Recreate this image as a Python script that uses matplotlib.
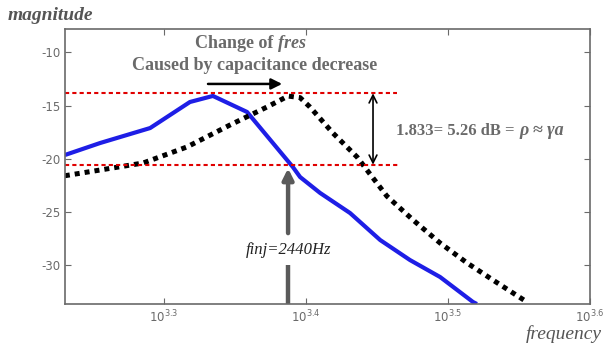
import numpy as np
import matplotlib
matplotlib.use("Agg")
import matplotlib.pyplot as plt

plt.rcParams['axes.unicode_minus'] = False

# blue curve (before capacitance decrease)
blue_f = [1699, 1799, 1951, 2081, 2160, 2283, 2459, 2488, 2570, 2698, 2833, 2973, 3122, 3293, 3314]
blue_db = [-19.65, -18.52, -17.11, -14.66, -14.09, -15.60, -20.78, -21.72, -23.22, -25.11, -27.65, -29.53, -31.13, -33.48, -33.67]

# black dotted curve (after)
black_f = [1699, 1799, 1929, 2071, 2221, 2358, 2440, 2488, 2528, 2624, 2729, 2787, 2864, 2988, 3122, 3262, 3401, 3594]
black_db = [-21.6, -21.06, -20.40, -18.89, -16.82, -15.13, -14.1, -14.25, -15.13, -17.58, -19.84, -21.45, -23.52, -25.76, -27.93, -29.81, -31.41, -33.48]

upper_db = -13.84
lower_db = -20.56
f_inj = 2440

xticks = [10**3.3, 10**3.4, 10**3.5, 10**3.6]
xtick_labels = ['$10^{3.3}$', '$10^{3.4}$', '$10^{3.5}$', '$10^{3.6}$']
yticks = [-10, -15, -20, -25, -30]

gray = '#6a6a6a'
serif = 'Liberation Serif'

fig = plt.figure(figsize=(6.04, 3.52), dpi=100)
ax = fig.add_axes([65/604, 48/352, 525/604, 275/352])

ax.plot(blue_f, blue_db, color='#1e1ee6', linewidth=3.0, solid_capstyle='butt')
ax.plot(black_f, black_db, color='black', linewidth=3.6, linestyle=(0, (1, 1)), dash_capstyle='butt')

ax.set_xscale('log')
ax.set_xlim(10**3.2303, 10**3.6)
ax.set_ylim(-33.67, -7.79)
ax.set_xticks(xticks)
ax.set_xticklabels(xtick_labels)
ax.xaxis.set_minor_locator(matplotlib.ticker.NullLocator())
ax.set_yticks(yticks)
ax.tick_params(direction='in', top=True, right=True, length=4, color=gray,
               labelcolor=gray, labelsize=8.5)
for s in ax.spines.values():
    s.set_color(gray)
    s.set_linewidth(1.2)

# red dashed reference lines
ax.plot([10**3.2303, 10**3.4641], [upper_db, upper_db], color='#e00000', linestyle=(0, (2, 1.5)), linewidth=1.5)
ax.plot([10**3.2303, 10**3.4662], [lower_db, lower_db], color='#e00000', linestyle=(0, (2, 1.5)), linewidth=1.5)

# double arrow
ax.annotate('', xy=(10**3.4472, upper_db), xytext=(10**3.4472, lower_db),
            arrowprops=dict(arrowstyle='<->', color='black', lw=1.2, shrinkA=0, shrinkB=0,
                            mutation_scale=14))

# gray f_inj arrow
ax.annotate('', xy=(f_inj, -20.9), xytext=(f_inj, -27.0),
            arrowprops=dict(arrowstyle='-|>', color='#5a5a5a', lw=3.2, shrinkA=0, shrinkB=0,
                            mutation_scale=16))
ax.plot([f_inj, f_inj], [-30.0, -33.67], color='#5a5a5a', linewidth=3.2, solid_capstyle='butt')
ax.text(f_inj, -28.6, 'finj=2440Hz', ha='center', va='center', fontsize=12,
        family=serif, style='italic', color='#222222')

# change arrow
ax.annotate('', xy=(10**3.3832, -12.96), xytext=(10**3.3310, -12.96),
            arrowprops=dict(arrowstyle='-|>', color='black', lw=1.8, shrinkA=0, shrinkB=0,
                            mutation_scale=16))

fig.text(273/604, 1 - 43/352, 'Change of', ha='right', va='center', fontsize=13,
         family=serif, weight='bold', color=gray)
fig.text(278/604, 1 - 43/352, 'fres', ha='left', va='center', fontsize=13,
         family=serif, weight='bold', style='italic', color=gray)
fig.text(255/604, 1 - 66/352, 'Caused by capacitance decrease', ha='center', va='center',
         fontsize=13, family=serif, weight='bold', color=gray)

fig.text(515/604, 1 - 131/352, '1.833= 5.26 dB =', ha='right', va='center', fontsize=12,
         family=serif, weight='bold', color=gray)
fig.text(519/604, 1 - 131/352, '\u03c1 \u2248 \u03b3a', ha='left', va='center', fontsize=13,
         family=serif, weight='bold', style='italic', color=gray)

fig.text(8/604, 1 - 15/352, 'magnitude', ha='left', va='center', fontsize=14,
         family=serif, weight='bold', style='italic', color='#555555')
fig.text(602/604, 1 - 334/352, 'frequency', ha='right', va='center', fontsize=14,
         family=serif, style='italic', color='#555555')

fig.savefig('out.png', dpi=100, facecolor='white')
